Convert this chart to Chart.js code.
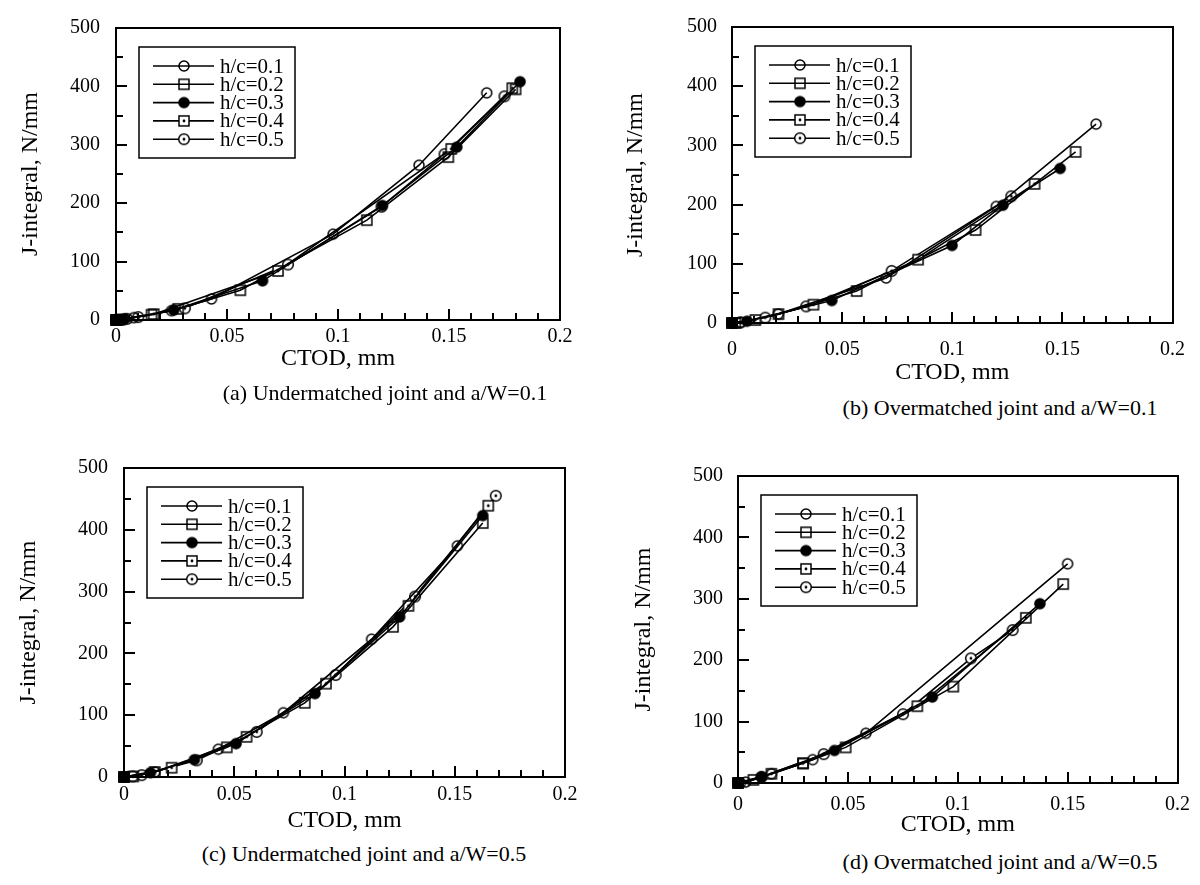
<!DOCTYPE html>
<html><head><meta charset="utf-8">
<script src="https://cdn.jsdelivr.net/npm/chart.js@4/dist/chart.umd.min.js"></script>
<style>
body{margin:0;background:#fff;width:1200px;height:885px;position:relative;overflow:hidden;font-family:'Liberation Serif','Times New Roman',serif;}
canvas{position:absolute;}
.cap{position:absolute;font-size:22px;white-space:nowrap;transform:translate(-50%,-50%);color:#000;}
</style></head><body>
<canvas id="pa" width="600" height="385" style="left:0;top:0"></canvas>
<canvas id="pb" width="600" height="395" style="left:600px;top:0"></canvas>
<canvas id="pc" width="600" height="410" style="left:0;top:430px"></canvas>
<canvas id="pd" width="600" height="410" style="left:600px;top:430px"></canvas>
<div class="cap" style="left:385px;top:393px">(a) Undermatched joint and a/W=0.1</div>
<div class="cap" style="left:1000px;top:408px">(b) Overmatched joint and a/W=0.1</div>
<div class="cap" style="left:364px;top:854px">(c) Undermatched joint and a/W=0.5</div>
<div class="cap" style="left:1000px;top:862px">(d) Overmatched joint and a/W=0.5</div>
<script>
// ---- tick values / labels ----
const xTickValues = [0, 0.05, 0.1, 0.15, 0.2];
const xTickLabels = ['0', '0.05', '0.1', '0.15', '0.2'];
const yTickValues = [0, 100, 200, 300, 400, 500];
const yTickLabels = ['0', '100', '200', '300', '400', '500'];
const xMinorTicks = [0,0.01,0.02,0.03,0.04,0.05,0.06,0.07,0.08,0.09,0.1,0.11,0.12,0.13,0.14,0.15,0.16,0.17,0.18,0.19,0.2];
const yMinorTicks = [0,50,100,150,200,250,300,350,400,450,500];
const seriesLabels = ['h/c=0.1', 'h/c=0.2', 'h/c=0.3', 'h/c=0.4', 'h/c=0.5'];

// ---- (a) Undermatched, a/W=0.1 : [CTOD, J] ----
const a_hc01 = [[0,0],[0.003,1],[0.008,4],[0.025,16],[0.043,36],[0.0978,147],[0.1365,265],[0.167,389]];
const a_hc02 = [[0,0],[0.002,1],[0.016,9],[0.028,19],[0.056,51],[0.113,171],[0.1497,279],[0.180,395]];
const a_hc03 = [[0,0],[0.004,2],[0.026,17],[0.066,67],[0.12,196],[0.1535,296],[0.182,408]];
const a_hc04 = [[0,0],[0.001,0],[0.017,10],[0.073,84],[0.151,293],[0.1785,397]];
const a_hc05 = [[0,0],[0.005,2],[0.01,5],[0.031,20],[0.0775,95],[0.1196,194],[0.148,284],[0.175,383]];

// ---- (b) Overmatched, a/W=0.1 ----
const b_hc01 = [[0,0],[0.004,1],[0.021,15],[0.070,76],[0.12,197],[0.1653,336]];
const b_hc02 = [[0,0],[0.0015,0],[0.0211,15],[0.0566,54],[0.1106,157],[0.156,289]];
const b_hc03 = [[0,0],[0.0068,3],[0.0453,38],[0.0999,131],[0.123,199],[0.149,261]];
const b_hc04 = [[0,0],[0.0106,5],[0.037,31],[0.0845,107],[0.1374,235]];
const b_hc05 = [[0,0],[0.0038,1],[0.0151,9],[0.0337,28],[0.0725,88],[0.1268,214]];

// ---- (c) Undermatched, a/W=0.5 ----
const c_hc01 = [[0,0],[0.014,8],[0.0428,45],[0.0723,104],[0.1123,223],[0.1512,374]];
const c_hc02 = [[0,0],[0.0042,1],[0.014,8],[0.0466,48],[0.082,120],[0.122,243],[0.1627,411]];
const c_hc03 = [[0,0],[0.012,7],[0.0319,28],[0.0508,54],[0.0866,135],[0.125,259],[0.1627,423]];
const c_hc04 = [[0,0],[0.0216,15],[0.0556,65],[0.0916,151],[0.129,277],[0.1652,439]];
const c_hc05 = [[0,0],[0.004,1],[0.008,3],[0.033,27],[0.0602,73],[0.096,165],[0.132,292],[0.1686,455]];

// ---- (d) Overmatched, a/W=0.5 ----
const d_hc01 = [[0,0],[0.0035,1.5],[0.0152,15],[0.034,38],[0.0582,81],[0.15,357]];
const d_hc02 = [[0,0],[0.007,5],[0.0296,32],[0.049,58],[0.098,157],[0.148,324]];
const d_hc03 = [[0,0],[0.0107,10],[0.0439,53],[0.0884,140],[0.1374,292]];
const d_hc04 = [[0,0],[0.0152,15],[0.0296,32],[0.0816,125],[0.131,269]];
const d_hc05 = [[0,0],[0.001,0],[0.0107,10],[0.039,47],[0.0751,112],[0.106,203],[0.125,249]];

const FAM = 'Liberation Serif';
const FONT = "'Liberation Serif', serif";
Chart.defaults.color = '#000';
Chart.defaults.font.family = FAM;

function makeMarker(kind) {
  const c = document.createElement('canvas');
  c.width = 16; c.height = 16;
  const g = c.getContext('2d');
  g.strokeStyle = '#000'; g.fillStyle = '#fff'; g.lineWidth = 1.5;
  const cx = 8, cy = 8;
  if (kind === 'openCircle') {
    g.beginPath(); g.arc(cx, cy, 5, 0, Math.PI * 2); g.stroke();
  } else if (kind === 'openSquare') {
    g.strokeRect(cx - 5, cy - 5, 10, 10);
  } else if (kind === 'filledCircle') {
    g.fillStyle = '#000';
    g.beginPath(); g.arc(cx, cy, 5.8, 0, Math.PI * 2); g.fill();
  } else if (kind === 'dotSquare') {
    g.fillRect(cx - 5, cy - 5, 10, 10); g.strokeRect(cx - 5, cy - 5, 10, 10);
    g.fillStyle = '#000'; g.beginPath(); g.arc(cx, cy, 1.4, 0, Math.PI * 2); g.fill();
  } else if (kind === 'dotCircle') {
    g.beginPath(); g.arc(cx, cy, 5.3, 0, Math.PI * 2); g.fill(); g.stroke();
    g.fillStyle = '#000'; g.beginPath(); g.arc(cx, cy, 1.4, 0, Math.PI * 2); g.fill();
  }
  return c;
}
const markers = ['openCircle', 'openSquare', 'filledCircle', 'dotSquare', 'dotCircle'].map(makeMarker);

const framePlugin = {
  id: 'frameTicks',
  afterDraw(chart) {
    const ctx = chart.ctx;
    const a = chart.chartArea;
    const xs = chart.scales.x, ys = chart.scales.y;
    ctx.save();
    const L = Math.round(a.left), R = Math.round(a.right), T = Math.round(a.top), B = Math.round(a.bottom);
    ctx.fillStyle = '#000';
    ctx.fillRect(L - 1, T - 1, R - L + 2, 2);
    ctx.fillRect(L - 1, B - 1, R - L + 2, 2);
    ctx.fillRect(L - 1, T - 1, 2, B - T + 2);
    ctx.fillRect(R - 1, T - 1, 2, B - T + 2);
    // inward tick marks on the bottom and left axes
    for (let i = 0; i < xMinorTicks.length; i++) {
      const px = Math.round(xs.getPixelForValue(xMinorTicks[i]));
      const len = (i % 5 === 0) ? 11 : 7;
      ctx.fillRect(px - 1, B - len, 2, len);
    }
    for (let i = 0; i < yMinorTicks.length; i++) {
      const py = Math.round(ys.getPixelForValue(yMinorTicks[i]));
      const len = (i % 2 === 0) ? 11 : 7;
      ctx.fillRect(L, py - 1, len, 2);
    }
    // legend box
    const bx = a.left + 23, by = a.top + 19, bw = 156, bh = 111;
    ctx.fillStyle = '#fff';
    ctx.fillRect(bx, by, bw, bh);
    ctx.strokeStyle = '#000';
    ctx.lineWidth = 1.5;
    ctx.strokeRect(bx, by, bw, bh);
    ctx.font = '21px ' + FONT;
    ctx.textBaseline = 'middle'; ctx.textAlign = 'left';
    ctx.fillStyle = '#000';
    chart.data.datasets.forEach((ds, i) => {
      const ry = by + 19 + i * 18.3;
      ctx.lineWidth = 1.6;
      ctx.beginPath(); ctx.moveTo(bx + 14, ry); ctx.lineTo(bx + 75, ry); ctx.stroke();
      const m = markers[i];
      ctx.drawImage(m, bx + 45 - m.width / 2, ry - m.height / 2);
      ctx.fillText(ds.label, bx + 81, ry + 1);
    });
    ctx.restore();
  }
};

function makePanel(id, series, cfg) {
  const tickFont = {family: FAM, size: 20};
  const titleFont = {family: FAM, size: 24};
  new Chart(document.getElementById(id), {
    type: 'scatter',
    data: {
      datasets: series.map((d, i) => ({
        label: seriesLabels[i],
        data: d.map(p => ({x: p[0], y: p[1]})),
        showLine: true,
        borderColor: '#000',
        borderWidth: 1.6,
        pointStyle: markers[i],
        pointRadius: 6,
        pointHoverRadius: 6,
        clip: false,
        tension: 0
      }))
    },
    options: {
      responsive: false,
      animation: false,
      devicePixelRatio: 1,
      events: [],
      layout: {padding: {left: 0, top: cfg.top, right: cfg.right, bottom: 0}},
      plugins: {legend: {display: false}, tooltip: {enabled: false}},
      scales: {
        x: {
          type: 'linear', min: 0, max: 0.2,
          afterBuildTicks: s => { s.ticks = xTickValues.map(v => ({value: v})); },
          ticks: {callback: (v, i) => xTickLabels[i], font: tickFont, color: '#000', padding: cfg.xTickPad, autoSkip: false, maxRotation: 0},
          grid: {display: false, drawTicks: false},
          border: {display: false},
          title: {display: true, text: 'CTOD, mm', font: titleFont, color: '#000', padding: {top: 0, bottom: cfg.xTitlePad}},
          afterFit: s => { s.height = cfg.xH; }
        },
        y: {
          type: 'linear', min: 0, max: 500,
          afterBuildTicks: s => { s.ticks = yTickValues.map(v => ({value: v})); },
          ticks: {callback: (v, i) => yTickLabels[i], font: tickFont, color: '#000', padding: cfg.yTickPad, autoSkip: false},
          grid: {display: false, drawTicks: false},
          border: {display: false},
          title: {display: true, text: 'J-integral, N/mm', font: titleFont, color: '#000', padding: {top: cfg.yTitlePad, bottom: 0}},
          afterFit: s => { s.width = cfg.yW; }
        }
      }
    },
    plugins: [framePlugin]
  });
}

makePanel('pa', [a_hc01, a_hc02, a_hc03, a_hc04, a_hc05], {top: 14, right: 40, xH: 65, yW: 116, xTickPad: 5, xTitlePad: 12, yTickPad: 16, yTitlePad: 16});
makePanel('pb', [b_hc01, b_hc02, b_hc03, b_hc04, b_hc05], {top: 16, right: 27, xH: 72, yW: 132, xTickPad: 15, xTitlePad: 8, yTickPad: 15, yTitlePad: 21});
makePanel('pc', [c_hc01, c_hc02, c_hc03, c_hc04, c_hc05], {top: 38, right: 35, xH: 63, yW: 124, xTickPad: 6, xTitlePad: 5, yTickPad: 16, yTitlePad: 14});
makePanel('pd', [d_hc01, d_hc02, d_hc03, d_hc04, d_hc05], {top: 46, right: 20, xH: 57, yW: 138, xTickPad: 10, xTitlePad: 1, yTickPad: 15, yTitlePad: 29});
</script>
</body></html>
